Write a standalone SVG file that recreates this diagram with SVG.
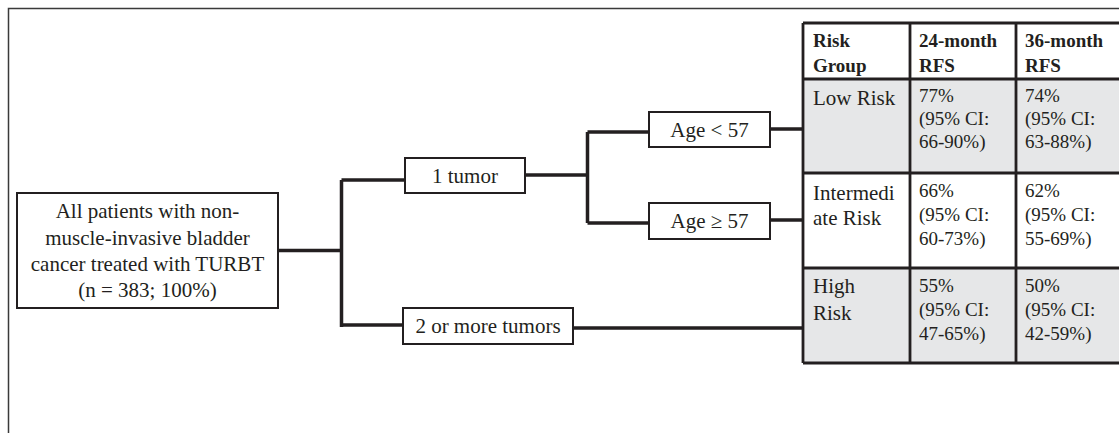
<svg xmlns="http://www.w3.org/2000/svg" width="1119" height="433" viewBox="0 0 1119 433" font-family="'Liberation Serif', 'DejaVu Serif', serif">
<style>
text{font-family:'Liberation Serif','DejaVu Serif',serif;fill:#231f20}
.node{fill:#fff;stroke:#231f20;stroke-width:2}
.t{font-size:21px}
.c{text-anchor:middle}
.n{font-size:19px}
.b{font-size:19px;font-weight:bold}
.conn{fill:none;stroke:#231f20;stroke-width:3.5;stroke-linejoin:miter}
.grid{stroke:#231f20;stroke-width:2.8;fill:none}
.shade{fill:#e6e7e8}
</style>
<rect width="1119" height="433" fill="#fff"/>
<path d="M8.5 433 V8.5 H1119" fill="none" stroke="#3a3a3a" stroke-width="1.5"/>

<g id="connectors">
<path class="conn" d="M278 250.5 H341.5 M341.5 180 V327 M341.5 180 H405 M341.5 325 H403"/>
<path class="conn" d="M525 175 H587.5 M587.5 132 V223 M587.5 132 H649 M587.5 223 H649"/>
<path class="conn" d="M770 129 H803 M770 220 H803 M573 328 H803"/>
</g>

<g id="root">
<rect class="node" x="17" y="193" width="261" height="115"/>
<text class="t c" x="147.5" y="218">All patients with non-</text>
<text class="t c" x="147.5" y="244.5">muscle-invasive bladder</text>
<text class="t c" x="147.5" y="271">cancer treated with TURBT</text>
<text class="t c" x="147.5" y="297">(n = 383; 100%)</text>
</g>

<g id="one-tumor">
<rect class="node" x="405" y="158" width="120" height="35"/>
<text class="t c" x="465" y="183">1 tumor</text>
</g>

<g id="age-lt-57">
<rect class="node" x="649" y="112" width="121" height="35"/>
<text class="t c" x="709.5" y="136.5">Age &lt; 57</text>
</g>

<g id="age-ge-57">
<rect class="node" x="649" y="203" width="121" height="36"/>
<text class="t c" x="709.5" y="228">Age ≥ 57</text>
</g>

<g id="two-tumors">
<rect class="node" x="403" y="308" width="170" height="36"/>
<text class="t c" x="488" y="333">2 or more tumors</text>
</g>

<g id="table">
<rect x="803" y="23" width="320" height="340" fill="#fff"/>
<rect class="shade" x="803" y="79" width="320" height="94"/>
<rect class="shade" x="803" y="268" width="320" height="95"/>
<path class="grid" d="M803 23 V363 M910 23 V363 M1016 23 V363 M803 23 H1121 M803 79 H1121 M803 173 H1121 M803 268 H1121 M803 363 H1121"/>
<text class="b" x="813" y="47">Risk</text>
<text class="b" x="813" y="72">Group</text>
<text class="b" x="919" y="47">24-month</text>
<text class="b" x="919" y="72">RFS</text>
<text class="b" x="1025" y="47">36-month</text>
<text class="b" x="1025" y="72">RFS</text>

<text class="t" x="813" y="105">Low Risk</text>
<text class="n" x="919" y="102">77%</text>
<text class="n" x="919" y="125">(95% CI:</text>
<text class="n" x="919" y="148">66-90%)</text>
<text class="n" x="1025" y="102">74%</text>
<text class="n" x="1025" y="125">(95% CI:</text>
<text class="n" x="1025" y="148">63-88%)</text>

<text class="t" x="813" y="200">Intermedi</text>
<text class="t" x="813" y="225">ate Risk</text>
<text class="n" x="919" y="197">66%</text>
<text class="n" x="919" y="221">(95% CI:</text>
<text class="n" x="919" y="245">60-73%)</text>
<text class="n" x="1025" y="197">62%</text>
<text class="n" x="1025" y="221">(95% CI:</text>
<text class="n" x="1025" y="245">55-69%)</text>

<text class="t" x="813" y="293">High</text>
<text class="t" x="813" y="320">Risk</text>
<text class="n" x="919" y="292">55%</text>
<text class="n" x="919" y="316">(95% CI:</text>
<text class="n" x="919" y="340">47-65%)</text>
<text class="n" x="1025" y="292">50%</text>
<text class="n" x="1025" y="316">(95% CI:</text>
<text class="n" x="1025" y="340">42-59%)</text>
</g>
</svg>
